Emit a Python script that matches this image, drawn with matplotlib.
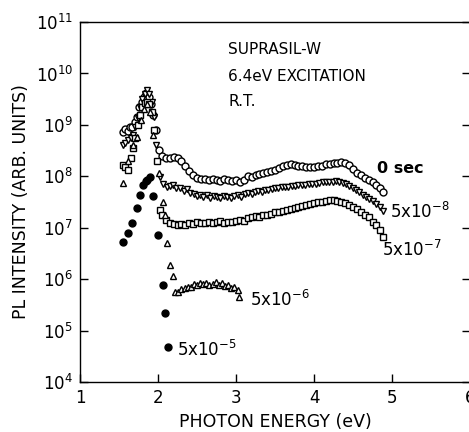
import matplotlib
matplotlib.use('Agg')
import matplotlib.pyplot as plt
import numpy as np

plt.rcParams['font.family'] = ['DejaVu Sans']

# 0 sec (open circles)
e_0 = [1.55, 1.58, 1.61, 1.64, 1.67, 1.70, 1.73, 1.76, 1.79, 1.82, 1.85, 1.88, 1.91, 1.94,
       1.97, 2.01, 2.05, 2.10, 2.15, 2.20, 2.25, 2.30, 2.35, 2.40, 2.45, 2.50, 2.55, 2.60,
       2.65, 2.70, 2.75, 2.80, 2.85, 2.90, 2.95, 3.00, 3.05, 3.10, 3.15, 3.20, 3.25, 3.30,
       3.35, 3.40, 3.45, 3.50, 3.55, 3.60, 3.65, 3.70, 3.75, 3.80, 3.85, 3.90, 3.95, 4.00,
       4.05, 4.10, 4.15, 4.20, 4.25, 4.30, 4.35, 4.40, 4.45, 4.50, 4.55, 4.60, 4.65, 4.70,
       4.75, 4.80, 4.85, 4.88]
log_0 = [8.86, 8.92, 8.88, 8.95, 8.96, 9.05, 9.15, 9.35, 9.45, 9.55, 9.62, 9.55, 9.40, 9.20,
         8.90, 8.51, 8.40, 8.36, 8.35, 8.37, 8.35, 8.30, 8.20, 8.10, 8.02, 7.97, 7.94, 7.95,
         7.93, 7.95, 7.92, 7.90, 7.95, 7.93, 7.90, 7.92, 7.88, 7.92, 8.00, 7.98, 8.03, 8.05,
         8.07, 8.08, 8.10, 8.13, 8.16, 8.20, 8.22, 8.24, 8.22, 8.20, 8.21, 8.19, 8.18, 8.19,
         8.20, 8.21, 8.23, 8.24, 8.26, 8.26, 8.27, 8.25, 8.22, 8.15, 8.06, 8.02, 7.97, 7.92,
         7.88, 7.84, 7.78, 7.70]

# 5x10^-8 s (open down triangles)
e_8 = [1.55, 1.58, 1.62, 1.65, 1.68, 1.71, 1.74, 1.77, 1.80, 1.83, 1.86, 1.89, 1.92, 1.95,
       1.98, 2.03, 2.07, 2.11, 2.15, 2.19, 2.23, 2.28, 2.33, 2.37, 2.41, 2.46, 2.50, 2.54,
       2.58, 2.63, 2.67, 2.72, 2.76, 2.80, 2.85, 2.89, 2.93, 2.98, 3.02, 3.06, 3.11, 3.15,
       3.20, 3.24, 3.28, 3.33, 3.37, 3.41, 3.46, 3.50, 3.54, 3.59, 3.63, 3.67, 3.72, 3.76,
       3.80, 3.85, 3.89, 3.93, 3.98, 4.02, 4.06, 4.11, 4.15, 4.19, 4.24, 4.28, 4.32, 4.37,
       4.41, 4.45, 4.50, 4.54, 4.58, 4.63, 4.67, 4.71, 4.76, 4.80, 4.84, 4.88]
log_8 = [8.60, 8.65, 8.70, 8.75, 8.80, 8.95, 9.13, 9.35, 9.50, 9.60, 9.68, 9.60, 9.45, 9.15,
         8.60, 7.98, 7.85, 7.79, 7.82, 7.83, 7.78, 7.77, 7.72, 7.75, 7.67, 7.65, 7.62, 7.63,
         7.60, 7.64, 7.58, 7.62, 7.60, 7.57, 7.62, 7.60, 7.58, 7.62, 7.64, 7.60, 7.65, 7.68,
         7.66, 7.70, 7.72, 7.70, 7.74, 7.73, 7.76, 7.78, 7.77, 7.79, 7.80, 7.79, 7.82, 7.81,
         7.83, 7.84, 7.83, 7.85, 7.86, 7.86, 7.87, 7.88, 7.88, 7.89, 7.89, 7.90, 7.88, 7.87,
         7.85, 7.82, 7.78, 7.73, 7.69, 7.64, 7.60, 7.56, 7.52, 7.46, 7.40, 7.32]

# 5x10^-7 s (open squares)
e_7 = [1.55, 1.58, 1.62, 1.65, 1.68, 1.71, 1.74, 1.77, 1.80, 1.83, 1.86, 1.89, 1.92, 1.95,
       1.99, 2.02, 2.05, 2.10, 2.15, 2.20, 2.25, 2.30, 2.35, 2.40, 2.45, 2.50, 2.55, 2.60,
       2.65, 2.70, 2.75, 2.80, 2.85, 2.90, 2.95, 3.00, 3.05, 3.10, 3.15, 3.20, 3.25, 3.30,
       3.35, 3.40, 3.45, 3.50, 3.55, 3.60, 3.65, 3.70, 3.75, 3.80, 3.85, 3.90, 3.95, 4.00,
       4.05, 4.10, 4.15, 4.20, 4.25, 4.30, 4.35, 4.40, 4.45, 4.50, 4.55, 4.60, 4.65, 4.70,
       4.75, 4.80, 4.85, 4.88]
log_7 = [8.22, 8.18, 8.12, 8.35, 8.55, 8.75, 9.00, 9.20, 9.35, 9.42, 9.45, 9.40, 9.25, 8.90,
         8.30, 7.35, 7.25, 7.15, 7.09, 7.07, 7.05, 7.08, 7.06, 7.10, 7.08, 7.12, 7.10, 7.09,
         7.12, 7.10, 7.11, 7.13, 7.10, 7.12, 7.11, 7.13, 7.15, 7.14, 7.18, 7.20, 7.22, 7.21,
         7.24, 7.25, 7.27, 7.30, 7.31, 7.33, 7.35, 7.36, 7.38, 7.40, 7.42, 7.44, 7.46, 7.48,
         7.50, 7.51, 7.52, 7.54, 7.53, 7.52, 7.50, 7.48, 7.44, 7.40, 7.36, 7.30, 7.25, 7.20,
         7.12, 7.05, 6.95, 6.82]

# 5x10^-6 s (open up triangles)
e_6 = [1.55, 1.62, 1.68, 1.73, 1.78, 1.82, 1.86, 1.90, 1.94, 2.01, 2.06, 2.09, 2.11, 2.15,
       2.19, 2.22, 2.26, 2.30, 2.34, 2.38, 2.42, 2.46, 2.50, 2.54, 2.58, 2.62, 2.66, 2.70,
       2.74, 2.78, 2.82, 2.86, 2.90, 2.94, 2.98, 3.02, 3.04]
log_6 = [7.87, 8.30, 8.60, 8.76, 9.10, 9.30, 9.40, 9.25, 8.80, 8.06, 7.50, 7.25, 6.70, 6.27,
         6.06, 5.76, 5.75, 5.80, 5.82, 5.85, 5.84, 5.90, 5.88, 5.93, 5.90, 5.92, 5.88, 5.91,
         5.94, 5.89, 5.92, 5.87, 5.88, 5.82, 5.84, 5.78, 5.66]

# 5x10^-5 s (filled circles)
e_5 = [1.55, 1.62, 1.67, 1.73, 1.77, 1.81, 1.84, 1.86, 1.90, 1.94, 2.00, 2.06, 2.09, 2.13]
log_5 = [6.72, 6.89, 7.09, 7.38, 7.63, 7.83, 7.90, 7.93, 7.98, 7.61, 6.86, 5.88, 5.34, 4.68]

fig = plt.figure(figsize=(4.69, 4.32), dpi=100)
ax = fig.add_axes([0.1706, 0.1157, 0.8316, 0.8333])

kw = dict(linestyle='none', color='black', markersize=5, markeredgewidth=1.0)
ax.plot(e_0, 10 ** np.array(log_0), marker='o', markerfacecolor='white', **kw)
ax.plot(e_8, 10 ** np.array(log_8), marker='v', markerfacecolor='white', **kw)
ax.plot(e_7, 10 ** np.array(log_7), marker='s', markerfacecolor='white', **kw)
ax.plot(e_6, 10 ** np.array(log_6), marker='^', markerfacecolor='white', **kw)
ax.plot(e_5, 10 ** np.array(log_5), marker='o', markerfacecolor='black', **kw)

ax.set_yscale('log')
ax.set_xlim(1, 6)
ax.set_ylim(1e4, 1e11)
ax.set_xticks([1, 2, 3, 4, 5, 6])
ax.set_xticklabels(['1', '2', '3', '4', '5', '6'])
ax.set_yticks([10 ** k for k in range(4, 12)])
ax.set_yticklabels(['$10^{%d}$' % k for k in range(4, 12)])
ax.minorticks_off()
ax.tick_params(direction='in', length=6, width=1, labelsize=12, right=True,
               labelright=False, pad=5)
for s in ax.spines.values():
    s.set_linewidth(1)

ax.set_xlabel('PHOTON ENERGY (eV)', fontsize=12.5)
ax.set_ylabel('PL INTENSITY (ARB. UNITS)', fontsize=12.5, labelpad=4)

ax.text(2.9, 10 ** 10.46, 'SUPRASIL-W', fontsize=11, va='center')
ax.text(2.9, 10 ** 9.95, '6.4eV EXCITATION', fontsize=11, va='center')
ax.text(2.9, 10 ** 9.46, 'R.T.', fontsize=11, va='center')

ax.text(4.81, 10 ** 8.16, '0 sec', fontsize=11.5, va='center', fontweight='bold')
ax.text(4.97, 10 ** 7.30, r'5x10$^{-8}$', fontsize=12, va='center')
ax.text(4.87, 10 ** 6.56, r'5x10$^{-7}$', fontsize=12, va='center')
ax.text(3.18, 10 ** 5.59, r'5x10$^{-6}$', fontsize=12, va='center')
ax.text(2.24, 10 ** 4.62, r'5x10$^{-5}$', fontsize=12, va='center')

fig.savefig('out.png', dpi=100)
